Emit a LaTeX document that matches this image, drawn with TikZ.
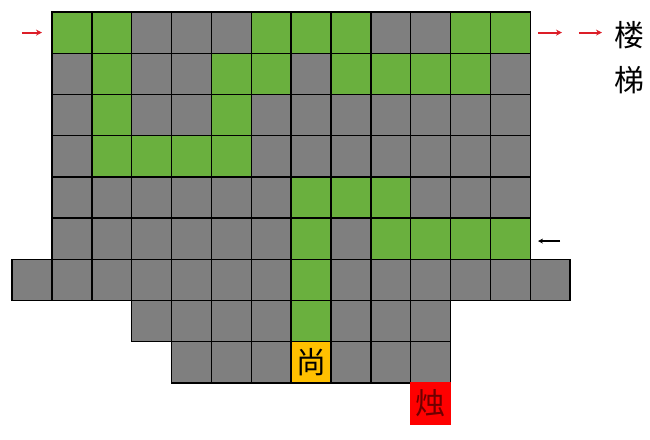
\documentclass[tikz,border=0pt]{standalone}
\usepackage{fontspec}
\newfontfamily\cjk{Noto Sans CJK SC}
\usetikzlibrary{arrows.meta}
\definecolor{cellgray}{RGB}{127,127,127}
\definecolor{cellgreen}{RGB}{106,176,62}
\definecolor{cellyellow}{RGB}{255,192,0}
\definecolor{cellred}{RGB}{255,0,0}
\definecolor{arrowred}{RGB}{220,30,40}
\definecolor{textred}{RGB}{110,0,0}
\tikzset{
  cell/.style={rectangle, draw=black, line width=1.4pt, fill=cellgray, inner sep=0pt,
    minimum width=39.85bp, minimum height=41.2bp},
  route/.style={cell, fill=cellgreen},
  marked/.style={cell, font=\cjk\fontsize{30}{31}\selectfont},
  lbl/.style={inner sep=0pt, font=\cjk\fontsize{30}{31}\selectfont},
  redarrow/.style={-{Stealth[length=6pt, width=6pt]}, arrowred, line width=1.8pt}
}
\begin{document}
\begin{tikzpicture}[x=39.85bp, y=-41.2bp]
      \useasboundingbox (-1.8049,-0.7913) rectangle (14.506,9.864);
      % Nodes
      \foreach \r in {0,...,5} {
        \foreach \c in {0,...,11} {
          \node[cell] at (\c, \r) (c-\r-\c) {};
        }
      }
      \foreach \c in {-1,...,12} {
        \node[cell] at (\c, 6) (c-6-\c) {};
      }
      \foreach \c in {2,...,9} {
        \node[cell] at (\c, 7) (c-7-\c) {};
      }
      \foreach \c in {3,...,9} {
        \node[cell] at (\c, 8) (c-8-\c) {};
      }
      % green route
      \foreach \c/\r in {0/0, 1/0, 5/0, 6/0, 7/0, 10/0, 11/0,
                         1/1, 4/1, 5/1, 7/1, 8/1, 9/1, 10/1,
                         1/2, 4/2,
                         1/3, 2/3, 3/3, 4/3,
                         6/4, 7/4, 8/4,
                         6/5, 8/5, 9/5, 10/5, 11/5,
                         6/6, 6/7} {
        \node[route] at (\c, \r) (g-\r-\c) {};
      }
      \node[marked, fill=cellyellow] at (6, 8) (shang) {尚};
      \node[marked, fill=cellred, draw=cellred, text=textred] at (9, 9) (zhu) {烛};

      \node[lbl] at (14.0, 0.05) (lou) {楼};
      \node[lbl] at (14.0, 1.15) (ti) {梯};

      \coordinate (in1) at (-1.253, 0);
      \coordinate (in2) at (-0.751, 0);
      \coordinate (out1) at (11.696, 0);
      \coordinate (out2) at (12.298, 0);
      \coordinate (out3) at (12.724, 0);
      \coordinate (out4) at (13.301, 0);
      \coordinate (back1) at (12.248, 5.06);
      \coordinate (back2) at (11.696, 5.06);

      \draw[redarrow] (in1) -- (in2);
      \draw[redarrow] (out1) -- (out2);
      \draw[redarrow] (out3) -- (out4);
      \draw[-{Stealth[length=5pt, width=5pt]}, black, line width=1.2pt] (back1) -- (back2);
    \end{tikzpicture}
\end{document}
